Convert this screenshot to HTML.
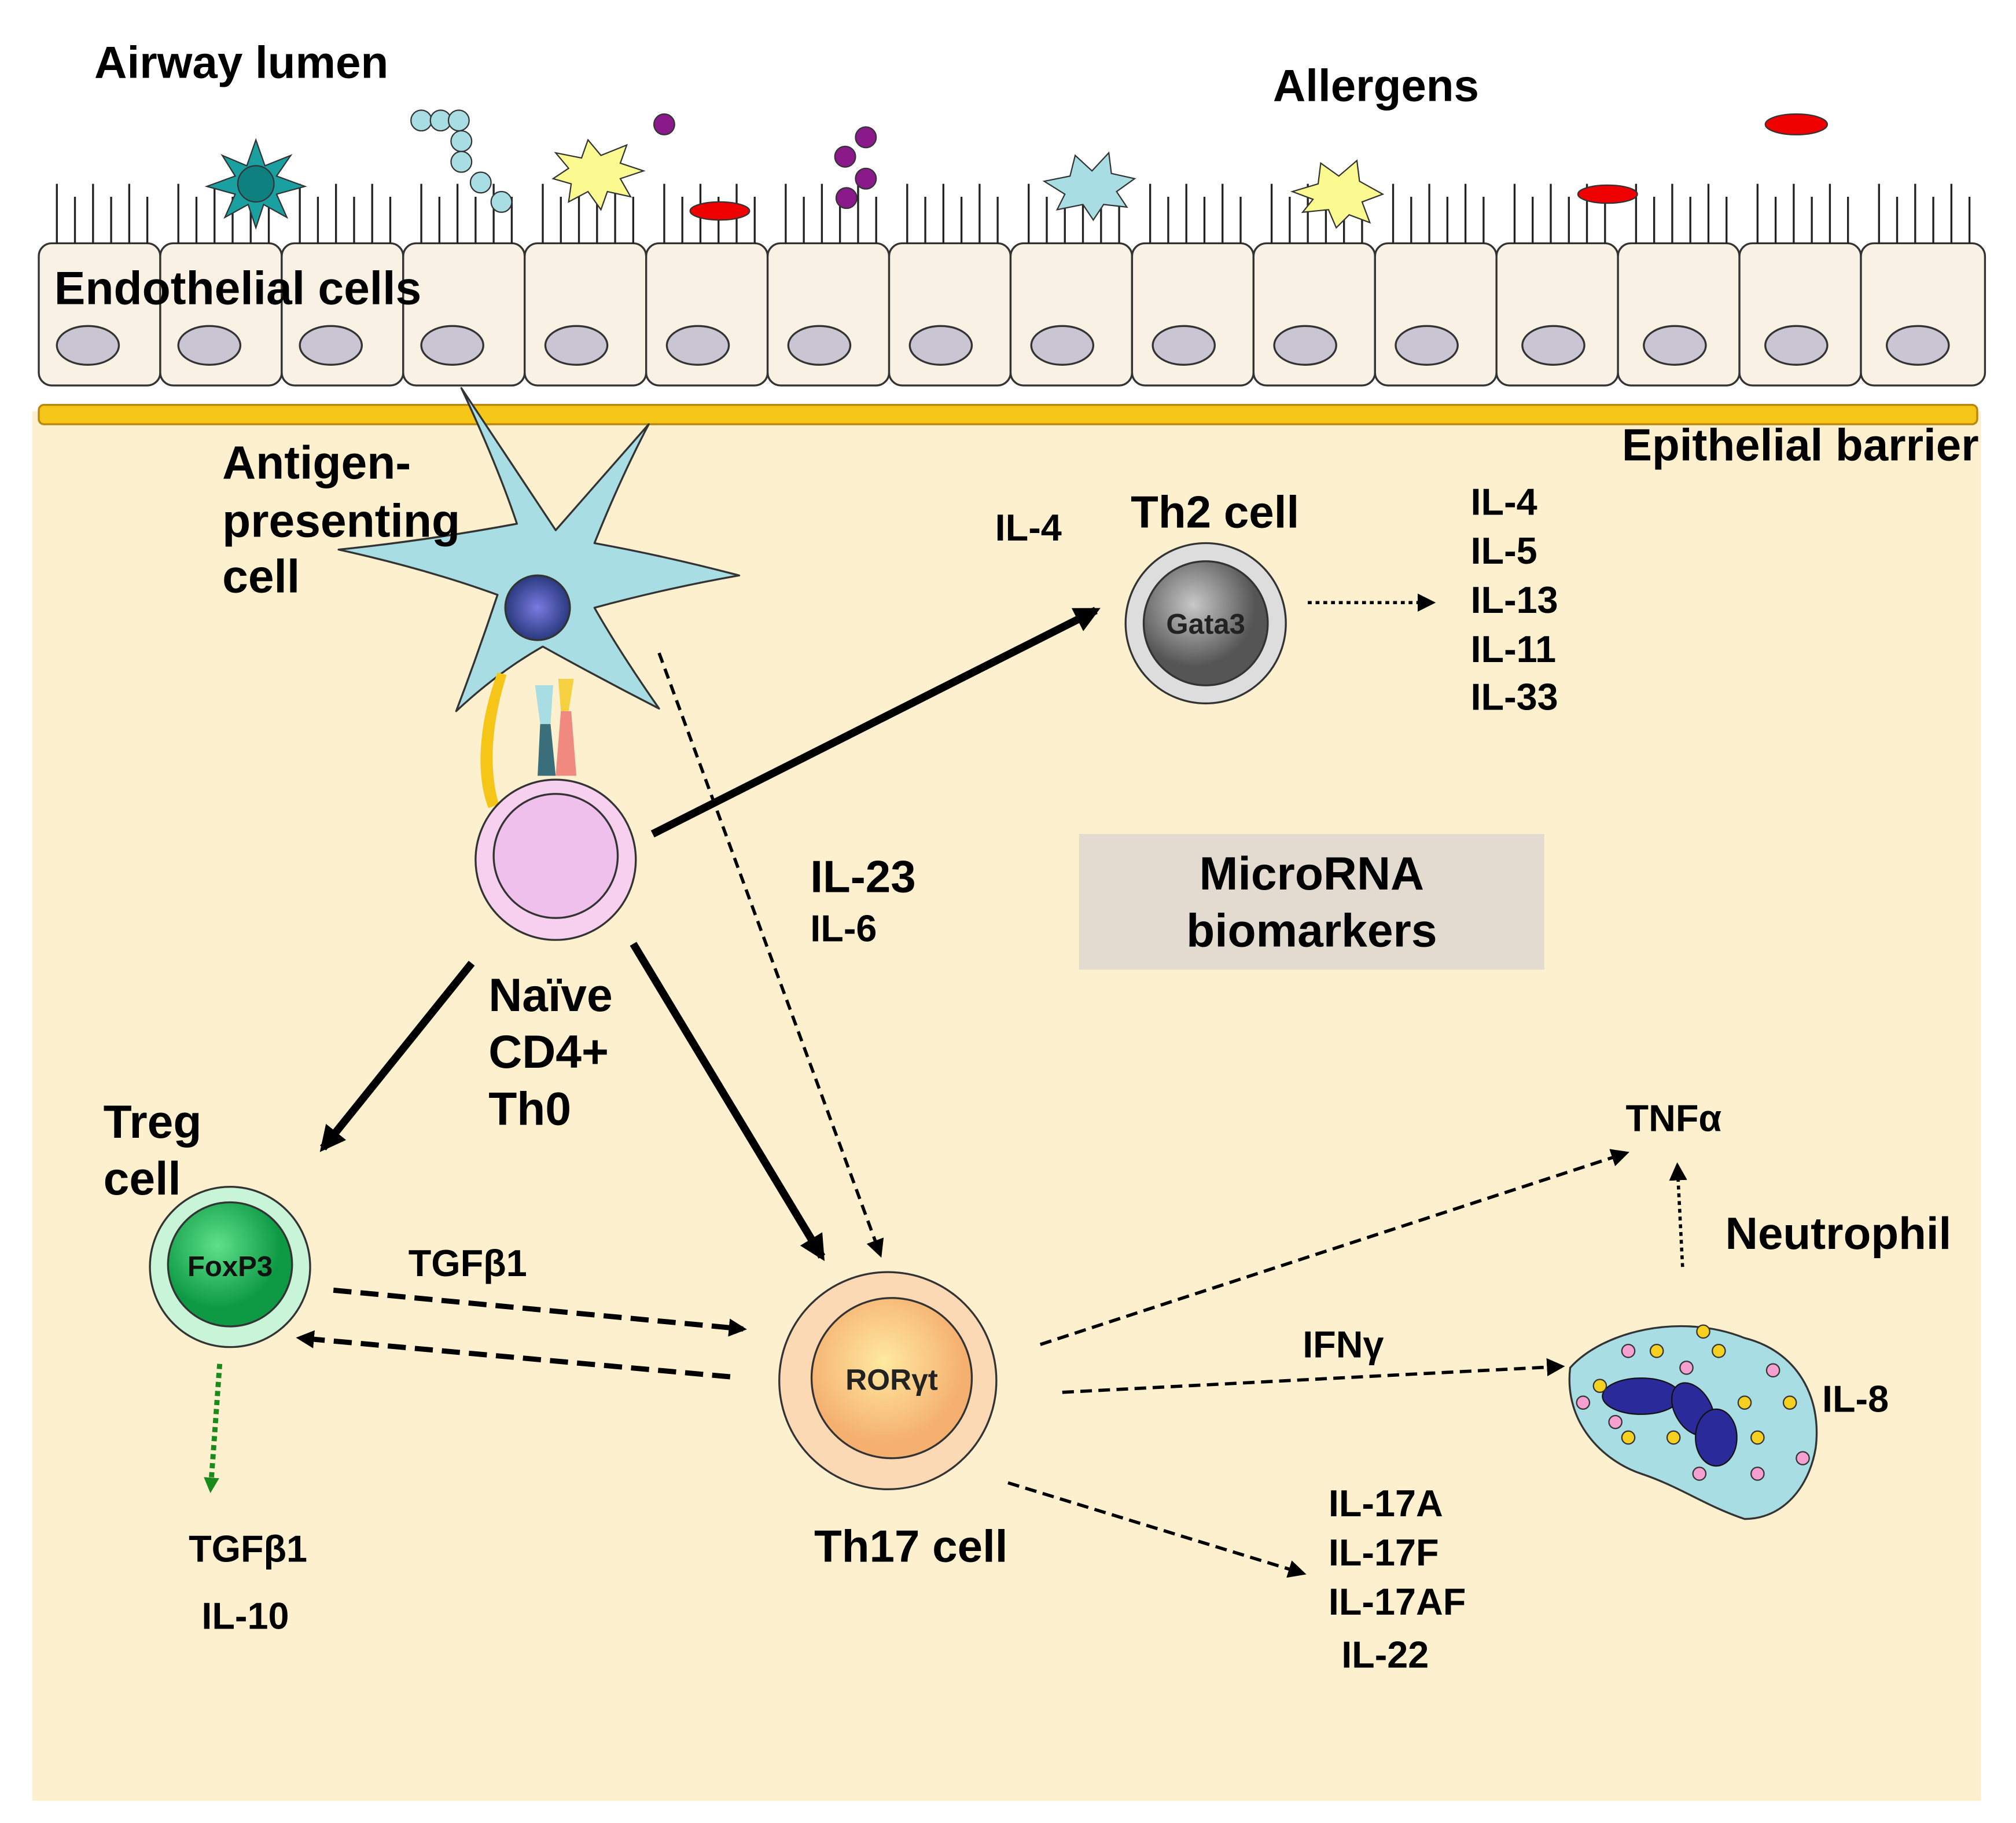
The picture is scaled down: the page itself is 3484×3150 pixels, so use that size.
<!DOCTYPE html>
<html><head><meta charset="utf-8"><style>html,body{margin:0;padding:0;background:#fff}svg{display:block}</style></head>
<body>
<svg width="3484" height="3150" viewBox="0 0 1560 1410" xmlns="http://www.w3.org/2000/svg" font-family="Liberation Sans, Arial, sans-serif" font-weight="bold">
<defs>
<marker id="ahT" markerWidth="20" markerHeight="20" refX="16" refY="10" orient="auto" markerUnits="userSpaceOnUse"><path d="M0,0 L20,10 L0,20 z" fill="#000"/></marker>
<marker id="ahg" markerWidth="12" markerHeight="12" refX="9" refY="6" orient="auto" markerUnits="userSpaceOnUse"><path d="M0,0 L12,6 L0,12 z" fill="#1a8a1a"/></marker>
<marker id="ahd" markerWidth="14" markerHeight="14" refX="11" refY="7" orient="auto" markerUnits="userSpaceOnUse"><path d="M0,0 L14,7 L0,14 z" fill="#000"/></marker>
<radialGradient id="gnuc"><stop offset="0" stop-color="#7a7ae0"/><stop offset="1" stop-color="#2a3a80"/></radialGradient>
<radialGradient id="ggrey" cx="0.4" cy="0.35"><stop offset="0" stop-color="#c8c8c8"/><stop offset="1" stop-color="#555"/></radialGradient>
<radialGradient id="ggreen" cx="0.4" cy="0.35"><stop offset="0" stop-color="#5ee08a"/><stop offset="1" stop-color="#0e9a45"/></radialGradient>
<radialGradient id="gorange" cx="0.45" cy="0.4"><stop offset="0" stop-color="#ffe9a0"/><stop offset="1" stop-color="#f5b070"/></radialGradient>
</defs>
<rect x="25" y="318" width="1508" height="1075" fill="#fdf0cf"/>
<g stroke="#333" stroke-width="1.5" fill="#f8f1e4">
<rect x="30" y="188" width="94" height="110" rx="10"/><rect x="124" y="188" width="94" height="110" rx="10"/><rect x="218" y="188" width="94" height="110" rx="10"/><rect x="312" y="188" width="94" height="110" rx="10"/><rect x="406" y="188" width="94" height="110" rx="10"/><rect x="500" y="188" width="94" height="110" rx="10"/><rect x="594" y="188" width="94" height="110" rx="10"/><rect x="688" y="188" width="94" height="110" rx="10"/><rect x="782" y="188" width="94" height="110" rx="10"/><rect x="876" y="188" width="94" height="110" rx="10"/><rect x="970" y="188" width="94" height="110" rx="10"/><rect x="1064" y="188" width="94" height="110" rx="10"/><rect x="1158" y="188" width="94" height="110" rx="10"/><rect x="1252" y="188" width="94" height="110" rx="10"/><rect x="1346" y="188" width="94" height="110" rx="10"/><rect x="1440" y="188" width="96" height="110" rx="10"/>
</g>
<g stroke="#333" stroke-width="1.5" fill="#c9c5d2">
<ellipse cx="68" cy="267" rx="24" ry="15"/><ellipse cx="162" cy="267" rx="24" ry="15"/><ellipse cx="256" cy="267" rx="24" ry="15"/><ellipse cx="350" cy="267" rx="24" ry="15"/><ellipse cx="446" cy="267" rx="24" ry="15"/><ellipse cx="540" cy="267" rx="24" ry="15"/><ellipse cx="634" cy="267" rx="24" ry="15"/><ellipse cx="728" cy="267" rx="24" ry="15"/><ellipse cx="822" cy="267" rx="24" ry="15"/><ellipse cx="916" cy="267" rx="24" ry="15"/><ellipse cx="1010" cy="267" rx="24" ry="15"/><ellipse cx="1104" cy="267" rx="24" ry="15"/><ellipse cx="1202" cy="267" rx="24" ry="15"/><ellipse cx="1296" cy="267" rx="24" ry="15"/><ellipse cx="1390" cy="267" rx="24" ry="15"/><ellipse cx="1484" cy="267" rx="24" ry="15"/>
</g>
<path stroke="#222" stroke-width="1.5" d="
M44 188V142M58 188V152M72 188V142M86 188V152M100 188V142M114 188V152
M138 188V142M152 188V152M166 188V142M180 188V152M194 188V142M208 188V152
M232 188V142M246 188V152M260 188V142M274 188V152M288 188V142M302 188V152
M326 188V142M340 188V152M354 188V142M368 188V152M382 188V142M396 188V152
M420 188V142M434 188V152M448 188V142M462 188V152M476 188V142M490 188V152
M514 188V142M528 188V152M542 188V142M556 188V152M570 188V142M584 188V152
M608 188V142M622 188V152M636 188V142M650 188V152M664 188V142M678 188V152
M702 188V142M716 188V152M730 188V142M744 188V152M758 188V142M772 188V152
M796 188V142M810 188V152M824 188V142M838 188V152M852 188V142M866 188V152
M890 188V142M904 188V152M918 188V142M932 188V152M946 188V142M960 188V152
M984 188V142M998 188V152M1012 188V142M1026 188V152M1040 188V142M1054 188V152
M1078 188V142M1092 188V152M1106 188V142M1120 188V152M1134 188V142M1148 188V152
M1172 188V142M1186 188V152M1200 188V142M1214 188V152M1228 188V142M1242 188V152
M1266 188V142M1280 188V152M1294 188V142M1308 188V152M1322 188V142M1336 188V152
M1360 188V142M1374 188V152M1388 188V142M1402 188V152M1416 188V142M1430 188V152
M1454 188V142M1468 188V152M1482 188V142M1496 188V152M1510 188V142M1524 188V152"/>
<rect x="30" y="313" width="1500" height="15" rx="4" fill="#f5c518" stroke="#b8860b" stroke-width="1.5"/>
<g stroke="#333" stroke-width="1">
<polygon points="198,108 205,128 225,120 214,136 236,144 214,150 222,168 204,158 198,176 192,158 174,168 182,150 160,144 182,136 172,120 191,128" fill="#1aa0a0"/>
<circle cx="198" cy="142" r="14" fill="#0e8080"/>
<g fill="#a8dde3"><circle cx="326" cy="93" r="8"/><circle cx="341" cy="93" r="8"/><circle cx="355" cy="93" r="8"/><circle cx="357" cy="109" r="8"/><circle cx="357" cy="125" r="8"/><circle cx="372" cy="141" r="8"/><circle cx="388" cy="156" r="8"/></g>
<polygon points="430,118 450,122 455,108 465,120 485,112 480,126 498,132 480,138 488,152 470,148 465,162 455,148 440,156 442,142 428,138 440,130" fill="#fafa90"/>
<polygon points="808,140 828,136 832,120 845,132 858,118 860,134 878,138 864,148 872,160 854,158 846,170 838,158 818,162 824,150" fill="#a8dde3"/>
<polygon points="1000,148 1020,142 1022,126 1036,136 1050,124 1052,140 1070,150 1054,156 1060,172 1044,166 1034,176 1028,162 1008,164 1016,154" fill="#fafa90"/>
<g fill="#8a1a8a"><circle cx="514" cy="96" r="8"/><circle cx="670" cy="106" r="8"/><circle cx="654" cy="121" r="8"/><circle cx="670" cy="138" r="8"/><circle cx="655" cy="153" r="8"/></g>
<g fill="#e00"><ellipse cx="557" cy="163" rx="23" ry="7"/><ellipse cx="1244" cy="150" rx="23" ry="7"/><ellipse cx="1390" cy="96" rx="24" ry="8"/></g>
</g>
<path d="M357,300 Q385,360 400,405 Q330,418 262,425 Q330,440 385,460 Q370,505 353,550 Q385,520 420,500 Q465,525 510,548 Q480,505 460,470 Q515,455 572,445 Q515,430 460,420 Q480,370 502,328 Q465,370 430,410 Z" fill="#a8dde3" stroke="#333" stroke-width="1.5" stroke-linejoin="round"/>
<circle cx="416" cy="470" r="25" fill="url(#gnuc)" stroke="#333" stroke-width="1.5"/>
<path d="M385,520 C370,560 368,600 378,625 L386,622 C378,595 380,560 392,522 Z" fill="#f5c518"/>
<path d="M414,530 L428,530 L426,560 L418,560 Z" fill="#a8dde3"/>
<path d="M418,560 L426,560 L430,600 L416,600 Z" fill="#3a6e7a"/>
<path d="M432,525 L444,525 L440,550 L434,550 Z" fill="#f5d040"/>
<path d="M434,550 L442,550 L446,600 L430,600 Z" fill="#f08a80"/>
<circle cx="430" cy="665" r="62" fill="#f6d0ee" stroke="#333" stroke-width="1.5"/>
<circle cx="430" cy="662" r="48" fill="#f0c0ec" stroke="#333" stroke-width="1.5"/>
<circle cx="933" cy="482" r="62" fill="#ddd" stroke="#333" stroke-width="1.5"/>
<circle cx="933" cy="482" r="48" fill="url(#ggrey)" stroke="#333" stroke-width="1.5"/>
<text x="933" y="490" text-anchor="middle" font-size="22" fill="#222">Gata3</text>
<circle cx="178" cy="980" r="62" fill="#c8f5d8" stroke="#333" stroke-width="1.5"/>
<circle cx="178" cy="978" r="48" fill="url(#ggreen)" stroke="#333" stroke-width="1.5"/>
<text x="178" y="987" text-anchor="middle" font-size="22" fill="#111">FoxP3</text>
<circle cx="687" cy="1068" r="84" fill="#fbd9b4" stroke="#333" stroke-width="1.5"/>
<circle cx="690" cy="1066" r="62" fill="url(#gorange)" stroke="#333" stroke-width="1.5"/>
<text x="690" y="1075" text-anchor="middle" font-size="23" fill="#222">RORγt</text>
<rect x="835" y="645" width="360" height="105" fill="#e3dbcf"/>
<text x="1015" y="688" text-anchor="middle" font-size="36">MicroRNA</text>
<text x="1015" y="732" text-anchor="middle" font-size="36">biomarkers</text>
<path d="M1215,1058 C1240,1030 1300,1015 1350,1035 C1390,1045 1410,1080 1405,1120 C1400,1150 1380,1175 1350,1175 C1320,1165 1300,1150 1270,1140 C1240,1130 1210,1100 1215,1058 Z" fill="#a8dde3" stroke="#333" stroke-width="1.5"/>
<g fill="#2a2a9a" stroke="#111" stroke-width="1"><ellipse cx="1270" cy="1080" rx="30" ry="14"/><ellipse cx="1310" cy="1090" rx="14" ry="22" transform="rotate(-30 1310 1090)"/><ellipse cx="1328" cy="1112" rx="16" ry="22"/></g>
<g stroke="#333" stroke-width="1" fill="#f5a0d0"><circle cx="1260" cy="1045" r="5"/><circle cx="1305" cy="1058" r="5"/><circle cx="1225" cy="1085" r="5"/><circle cx="1250" cy="1100" r="5"/><circle cx="1372" cy="1060" r="5"/><circle cx="1395" cy="1128" r="5"/><circle cx="1360" cy="1140" r="5"/><circle cx="1315" cy="1140" r="5"/></g>
<g stroke="#333" stroke-width="1" fill="#f5d020"><circle cx="1282" cy="1045" r="5"/><circle cx="1318" cy="1030" r="5"/><circle cx="1330" cy="1045" r="5"/><circle cx="1238" cy="1072" r="5"/><circle cx="1350" cy="1085" r="5"/><circle cx="1385" cy="1085" r="5"/><circle cx="1260" cy="1112" r="5"/><circle cx="1295" cy="1112" r="5"/><circle cx="1360" cy="1112" r="5"/></g>
<g stroke="#000" fill="none">
<line x1="505" y1="645" x2="848" y2="472" stroke-width="6" marker-end="url(#ahT)"/>
<line x1="365" y1="745" x2="250" y2="888" stroke-width="6" marker-end="url(#ahT)"/>
<line x1="490" y1="730" x2="636" y2="972" stroke-width="6" marker-end="url(#ahT)"/>
<line x1="510" y1="505" x2="681" y2="970" stroke-width="2.5" stroke-dasharray="8,5" marker-end="url(#ahd)"/>
<line x1="258" y1="998" x2="575" y2="1028" stroke-width="4" stroke-dasharray="14,7" marker-end="url(#ahd)"/>
<line x1="565" y1="1065" x2="232" y2="1035" stroke-width="4" stroke-dasharray="14,7" marker-end="url(#ahd)"/>
<line x1="1012" y1="466" x2="1108" y2="466" stroke-width="2.5" stroke-dasharray="3,3" marker-end="url(#ahd)"/>
<line x1="805" y1="1040" x2="1258" y2="892" stroke-width="2.5" stroke-dasharray="9,5" marker-end="url(#ahd)"/>
<line x1="822" y1="1077" x2="1208" y2="1057" stroke-width="2.5" stroke-dasharray="9,5" marker-end="url(#ahd)"/>
<line x1="780" y1="1147" x2="1008" y2="1217" stroke-width="2.5" stroke-dasharray="9,5" marker-end="url(#ahd)"/>
<line x1="1302" y1="980" x2="1298" y2="902" stroke-width="2.5" stroke-dasharray="3,3" marker-end="url(#ahd)"/>
<line x1="170" y1="1055" x2="163" y2="1152" stroke-width="4" stroke="#1a8a1a" stroke-dasharray="4,3" marker-end="url(#ahg)"/>
</g>
<g fill="#000">
<text x="73" y="60" font-size="35">Airway lumen</text>
<text x="985" y="78" font-size="35">Allergens</text>
<text x="42" y="235" font-size="36">Endothelial cells</text>
<text x="1255" y="356" font-size="35">Epithelial barrier</text>
<text x="172" y="370" font-size="36">Antigen-</text>
<text x="172" y="415" font-size="36">presenting</text>
<text x="172" y="458" font-size="36">cell</text>
<text x="770" y="418" font-size="29">IL-4</text>
<text x="875" y="408" font-size="35">Th2 cell</text>
<text x="1138" y="398" font-size="29">IL-4</text>
<text x="1138" y="436" font-size="29">IL-5</text>
<text x="1138" y="474" font-size="29">IL-13</text>
<text x="1138" y="512" font-size="29">IL-11</text>
<text x="1138" y="549" font-size="29">IL-33</text>
<text x="627" y="690" font-size="35">IL-23</text>
<text x="627" y="728" font-size="29">IL-6</text>
<text x="378" y="782" font-size="36">Naïve</text>
<text x="378" y="826" font-size="36">CD4+</text>
<text x="378" y="870" font-size="36">Th0</text>
<text x="80" y="880" font-size="36">Treg</text>
<text x="80" y="924" font-size="36">cell</text>
<text x="316" y="987" font-size="29">TGFβ1</text>
<text x="146" y="1208" font-size="29">TGFβ1</text>
<text x="156" y="1260" font-size="29">IL-10</text>
<text x="630" y="1208" font-size="35">Th17 cell</text>
<text x="1258" y="875" font-size="29">TNFα</text>
<text x="1335" y="966" font-size="35">Neutrophil</text>
<text x="1008" y="1050" font-size="29">IFNγ</text>
<text x="1410" y="1092" font-size="29">IL-8</text>
<text x="1028" y="1173" font-size="29">IL-17A</text>
<text x="1028" y="1211" font-size="29">IL-17F</text>
<text x="1028" y="1249" font-size="29">IL-17AF</text>
<text x="1038" y="1290" font-size="29">IL-22</text>
</g>
</svg>
</body></html>
